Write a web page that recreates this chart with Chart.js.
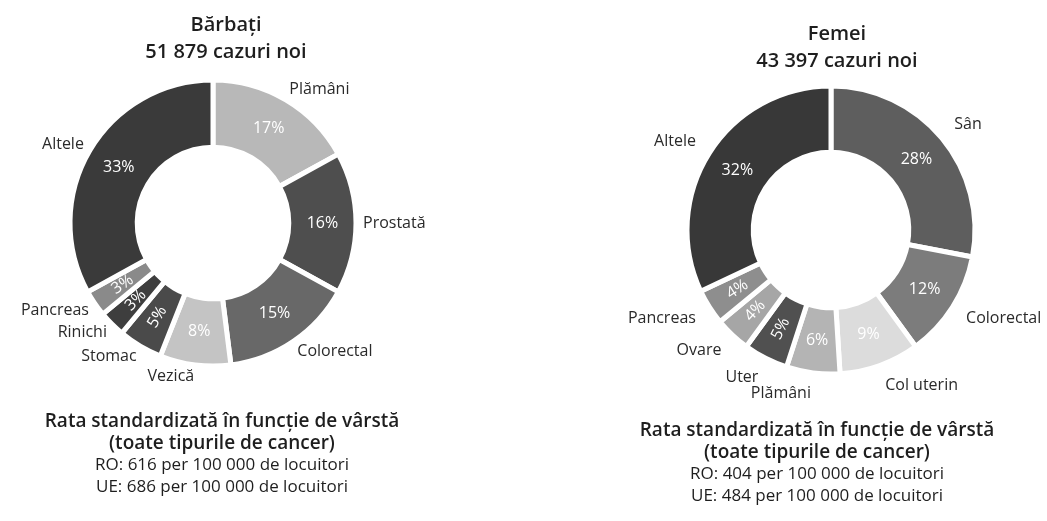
<!DOCTYPE html>
<html>
<head>
<meta charset="utf-8">
<script src="https://cdn.jsdelivr.net/npm/chart.js@4"></script>
<style>
  body { margin: 0; background: #fff; }
  #wrap { position: relative; width: 1047px; height: 521px; overflow: hidden; font-family: "Open Sans", sans-serif; color: #1e1e1e; }
  canvas { position: absolute; top: 0; }
  .txt { position: absolute; text-align: center; white-space: nowrap; }
  .ttl div { font-size: 20px; font-weight: 600; line-height: 27px; }
  .foot div { font-size: 17px; line-height: 22px; }
  .foot div.b { font-size: 19px; font-weight: 600; }
</style>
</head>
<body>
<div id="wrap">
  <canvas id="men" width="500" height="446" style="left:0px"></canvas>
  <canvas id="women" width="523" height="460" style="left:524px"></canvas>

  <div class="txt ttl" style="left:76px; top:10px; width:300px">
    <div>Bărbați</div>
    <div>51 879 cazuri noi</div>
  </div>
  <div class="txt ttl" style="left:687px; top:19px; width:300px">
    <div>Femei</div>
    <div>43 397 cazuri noi</div>
  </div>

  <div class="txt foot" style="left:22px; top:409px; width:400px">
    <div class="b">Rata standardizată în funcție de vârstă</div>
    <div class="b">(toate tipurile de cancer)</div>
    <div>RO: 616 per 100 000 de locuitori</div>
    <div>UE: 686 per 100 000 de locuitori</div>
  </div>
  <div class="txt foot" style="left:617px; top:418px; width:400px">
    <div class="b">Rata standardizată în funcție de vârstă</div>
    <div class="b">(toate tipurile de cancer)</div>
    <div>RO: 404 per 100 000 de locuitori</div>
    <div>UE: 484 per 100 000 de locuitori</div>
  </div>
</div>

<script>
// Bărbați - share of new cases (%)
const menLabels = ['Plămâni', 'Prostată', 'Colorectal', 'Vezică', 'Stomac', 'Rinichi', 'Pancreas', 'Altele'];
const menValues = [17, 16, 15, 8, 5, 3, 3, 33];
const menColors = ['#b8b8b8', '#4e4e4e', '#686868', '#c4c4c4', '#4a4a4a', '#3e3e3e', '#8a8a8a', '#3a3a3a'];

// Femei - share of new cases (%)
const womenLabels = ['Sân', 'Colorectal', 'Col uterin', 'Plămâni', 'Uter', 'Ovare', 'Pancreas', 'Altele'];
const womenValues = [28, 12, 9, 6, 5, 4, 4, 32];
const womenColors = ['#5e5e5e', '#7c7c7c', '#dcdcdc', '#b4b4b4', '#505050', '#a6a6a6', '#8e8e8e', '#383838'];

// draws the % inside each slice and the name outside the ring
const sliceLabels = {
  id: 'sliceLabels',
  afterDatasetsDraw(chart, args, opts) {
    const ctx = chart.ctx;
    const meta = chart.getDatasetMeta(0);
    const values = chart.data.datasets[0].data;
    const names = chart.data.labels;

    meta.data.forEach((arc, i) => {
      const p = arc.getProps(['x', 'y', 'startAngle', 'endAngle', 'innerRadius', 'outerRadius'], true);
      const mid = (p.startAngle + p.endAngle) / 2;
      const cos = Math.cos(mid);
      const sin = Math.sin(mid);

      // percentage inside the slice (small slices get turned along the radius)
      const rMid = (p.innerRadius + p.outerRadius) / 2;
      ctx.save();
      ctx.translate(p.x + cos * rMid, p.y + sin * rMid);
      if (values[i] <= 5) {
        ctx.rotate(cos < 0 ? mid + Math.PI : mid);
      }
      ctx.fillStyle = '#ffffff';
      ctx.font = '16px "Open Sans"';
      ctx.textAlign = 'center';
      ctx.textBaseline = 'middle';
      ctx.fillText(values[i] + '%', 0, 0);
      ctx.restore();

      // category name outside
      const r = opts.labelRadius;
      ctx.save();
      ctx.fillStyle = '#2a2a2a';
      ctx.font = '16px "Open Sans"';
      ctx.textAlign = cos >= 0 ? 'left' : 'right';
      ctx.textBaseline = 'middle';
      ctx.fillText(names[i], p.x + cos * r, p.y + sin * r + sin * 5);
      ctx.restore();
    });
  }
};

const makeDoughnut = (id, labels, values, colors, radius, cutout, padding, labelRadius) => {
  new Chart(document.getElementById(id), {
    type: 'doughnut',
    data: {
      labels: labels,
      datasets: [{
        data: values,
        backgroundColor: colors,
        borderColor: '#ffffff',
        borderWidth: 5
      }]
    },
    options: {
      responsive: false,
      animation: false,
      radius: radius,
      cutout: cutout,
      layout: { padding: padding },
      plugins: {
        legend: { display: false },
        tooltip: { enabled: false },
        sliceLabels: { labelRadius: labelRadius }
      }
    },
    plugins: [sliceLabels]
  });
};

makeDoughnut('men', menLabels, menValues, menColors, 143, '53%', { left: 0, right: 74, top: 0, bottom: 0 }, 150);
makeDoughnut('women', womenLabels, womenValues, womenColors, 144, '54%', { left: 91, right: 0, top: 0, bottom: 0 }, 160);
</script>
</body>
</html>
